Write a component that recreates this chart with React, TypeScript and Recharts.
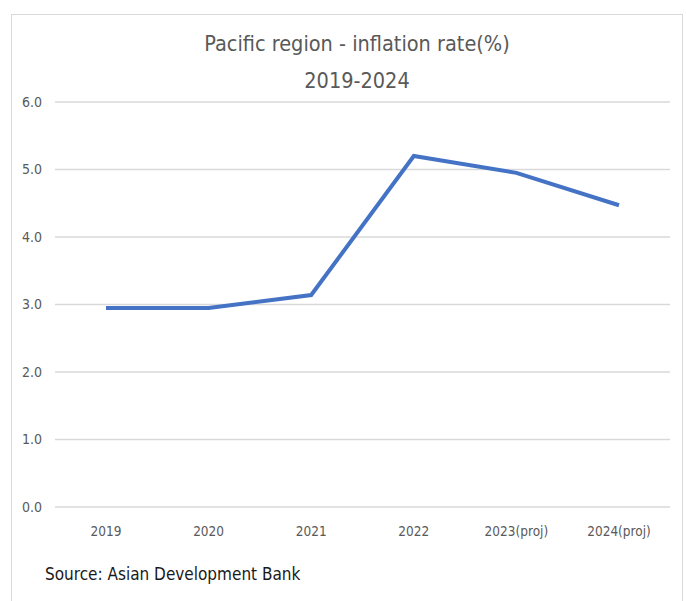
import React from 'react';
import { LineChart, Line, XAxis, YAxis, CartesianGrid } from 'recharts';

// Chart data
const years = ['2019', '2020', '2021', '2022', '2023(proj)', '2024(proj)'];
const inflation = [2.95, 2.95, 3.14, 5.2, 4.95, 4.47];
const yTicks = [0, 1, 2, 3, 4, 5, 6];

const data = years.map((year, i) => ({ year, value: inflation[i] }));

const FONT = '"Liberation Sans Narrow", "DejaVu Sans Condensed", sans-serif';
const GREY = '#595959';

export default function App() {
	return (
		<div
			style={{
				position: 'absolute',
				left: 0,
				top: 0,
				width: 686,
				height: 601,
				background: '#fff',
				overflow: 'hidden',
				fontFamily: FONT,
			}}
		>
			{/* chart frame */}
			<div
				style={{
					position: 'absolute',
					left: 11,
					top: 14,
					width: 670,
					height: 620,
					border: '1.5px solid #d9d9d9',
				}}
			/>
			<div
				style={{
					position: 'absolute',
					left: 0,
					width: 714,
					top: 25,
					textAlign: 'center',
					color: GREY,
					fontSize: 21.5,
					lineHeight: '37px',
				}}
			>
				<div>Pacific region - inflation rate(%)</div>
				<div>2019-2024</div>
			</div>
			<div style={{ position: 'absolute', left: 0, top: 0 }}>
				<LineChart
					width={686}
					height={601}
					data={data}
					margin={{ top: 102, right: 16, left: 0, bottom: 64 }}
				>
					<CartesianGrid vertical={false} stroke="#d9d9d9" strokeWidth={1.5} />
					<XAxis
						dataKey="year"
						axisLine={false}
						tickLine={false}
						tickSize={0}
						tickMargin={19}
						padding={{ left: 51, right: 51 }}
						interval={0}
						tick={{ fill: GREY, fontSize: 13.5, fontFamily: FONT }}
					/>
					<YAxis
						width={55}
						domain={[0, 6]}
						ticks={yTicks}
						axisLine={false}
						tickLine={false}
						tickSize={0}
						tickMargin={13}
						tickFormatter={(v: number) => v.toFixed(1)}
						tick={{ fill: GREY, fontSize: 14, fontFamily: FONT }}
					/>
					<Line
						type="linear"
						dataKey="value"
						stroke="#4472C4"
						strokeWidth={4}
						dot={false}
						isAnimationActive={false}
					/>
				</LineChart>
			</div>
			<div
				style={{
					position: 'absolute',
					left: 45,
					top: 564,
					fontSize: 17,
					color: '#1a1a1a',
				}}
			>
				Source: Asian Development Bank
			</div>
		</div>
	);
}
